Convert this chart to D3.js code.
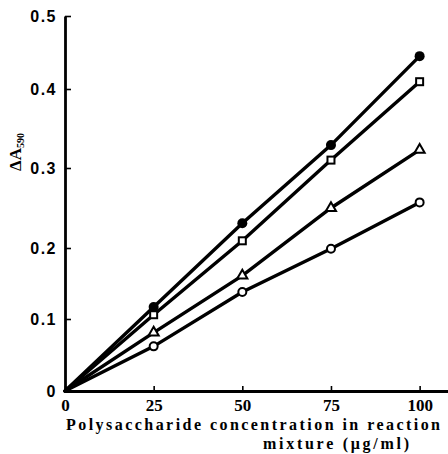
<!DOCTYPE html>
<html>
<head>
<meta charset="utf-8">
<script src="https://cdn.jsdelivr.net/npm/d3@7"></script>
<style>
  body { margin: 0; background: #fff; }
  svg { display: block; }
</style>
</head>
<body>
<div class="chart"></div>
<script>
// concentrations (ug/ml)
var conc = [0, 25, 50, 75, 100];

// delta A590 for the four series
var filledCircle = [0, 0.117, 0.231, 0.329, 0.445];
var openSquare   = [0, 0.106, 0.209, 0.310, 0.410];
var openTriangle = [0, 0.081, 0.161, 0.250, 0.323];
var openCircle   = [0, 0.062, 0.138, 0.199, 0.257];

var xTicks = [0, 25, 50, 75, 100];
var yTicks = [0, 0.1, 0.2, 0.3, 0.4, 0.5];

var width = 448,
    height = 454;

var svg = d3.select(".chart").append("svg")
    .attr("width", width)
    .attr("height", height);

var x = d3.scaleLinear()
    .domain([0, 108])
    .range([65, 448]);

// the scan is slightly uneven, so y follows the printed tick marks
var y = d3.scaleLinear()
    .domain(yTicks)
    .range([391, 319, 248, 168, 89, 16]);

var series = [
  {vals: filledCircle, shape: "fcircle"},
  {vals: openSquare, shape: "square"},
  {vals: openTriangle, shape: "triangle"},
  {vals: openCircle, shape: "circle"}
];

// axes
var xAxis = svg.append("g")
    .attr("transform", "translate(0," + y(0) + ")")
    .call(d3.axisBottom(x)
      .tickValues(xTicks)
      .tickSize(-5)
      .tickSizeOuter(0)
      .tickPadding(8)
      .tickFormat(d3.format("d")));

xAxis.select(".domain").attr("stroke-width", 2.8);
xAxis.selectAll(".tick line").attr("stroke-width", 1.6);
xAxis.selectAll(".tick text")
    .attr("font-family", "'Liberation Serif', serif")
    .attr("font-weight", "bold")
    .attr("font-size", 17)
    .attr("fill", "#000");

var yAxis = svg.append("g")
    .attr("transform", "translate(" + x(0) + ",0)")
    .call(d3.axisLeft(y)
      .tickValues(yTicks)
      .tickSize(-6)
      .tickSizeOuter(0)
      .tickPadding(8)
      .tickFormat(function(d){ return d === 0 ? "0" : d3.format(".1f")(d); }));

yAxis.select(".domain").attr("stroke-width", 2.8);
yAxis.selectAll(".tick line").attr("stroke-width", 1.6);
yAxis.selectAll(".tick text")
    .attr("font-family", "'Liberation Sans', sans-serif")
    .attr("font-weight", "bold")
    .attr("font-size", 16)
    .attr("letter-spacing", 1.5)
    .attr("fill", "#000");

// lines
var line = d3.line()
    .x(function(d, i){ return x(conc[i]); })
    .y(function(d){ return y(d); });

svg.append("g")
    .selectAll("path")
    .data(series)
    .enter()
    .append("path")
    .attr("d", function(s){ return line(s.vals); })
    .attr("fill", "none")
    .attr("stroke", "#000")
    .attr("stroke-width", 3.4)
    .attr("stroke-linecap", "round");

// markers (skip the origin)
var marks = svg.append("g");
series.forEach(function(s){
  s.vals.forEach(function(v, i){
    if (i === 0) return;
    var cx = x(conc[i]), cy = y(v);
    if (s.shape === "fcircle") {
      marks.append("circle")
          .attr("cx", cx).attr("cy", cy).attr("r", 5)
          .attr("fill", "#000");
    } else if (s.shape === "circle") {
      marks.append("circle")
          .attr("cx", cx).attr("cy", cy).attr("r", 4)
          .attr("fill", "#fff").attr("stroke", "#000").attr("stroke-width", 2);
    } else if (s.shape === "square") {
      marks.append("rect")
          .attr("x", cx - 3.5).attr("y", cy - 3.5)
          .attr("width", 7).attr("height", 7)
          .attr("fill", "#fff").attr("stroke", "#000").attr("stroke-width", 2);
    } else {
      marks.append("path")
          .attr("d", d3.symbol().type(d3.symbolTriangle).size(44)())
          .attr("transform", "translate(" + cx + "," + cy + ")")
          .attr("fill", "#fff").attr("stroke", "#000").attr("stroke-width", 2);
    }
  });
});

// axis titles
svg.append("text")
    .attr("x", 66)
    .attr("y", 430)
    .attr("textLength", 374)
    .attr("lengthAdjust", "spacing")
    .attr("font-family", "'Liberation Serif', serif")
    .attr("font-weight", "bold")
    .attr("font-size", 16)
    .text("Polysaccharide concentration in reaction");

svg.append("text")
    .attr("x", 263)
    .attr("y", 449)
    .attr("textLength", 146)
    .attr("lengthAdjust", "spacing")
    .attr("font-family", "'Liberation Serif', serif")
    .attr("font-weight", "bold")
    .attr("font-size", 16)
    .text("mixture (\u03bcg/ml)");

var ylab = svg.append("text")
    .attr("transform", "translate(21,171) rotate(-90)")
    .attr("font-family", "'Liberation Serif', serif")
    .attr("font-weight", "bold")
    .attr("font-size", 17);
ylab.append("tspan").text("\u0394A");
ylab.append("tspan")
    .attr("font-size", 10)
    .attr("dy", 3)
    .text("590");
</script>
</body>
</html>
